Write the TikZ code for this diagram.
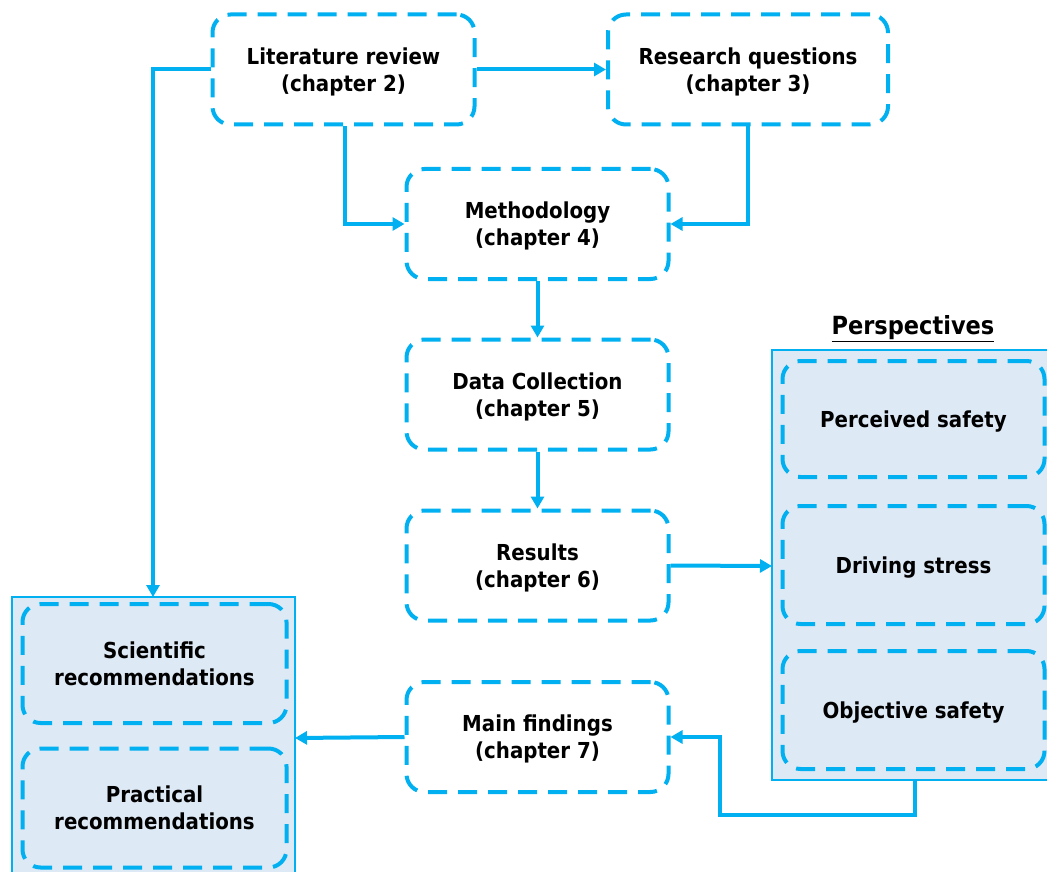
\documentclass[tikz,border=0pt]{standalone}
\usepackage{fontspec}
\setmainfont{DejaVu Sans Condensed}
\usetikzlibrary{arrows.meta}
\definecolor{cy}{HTML}{00B0F0}
\definecolor{lb}{HTML}{DEE9F6}
\tikzset{
  stepbox/.style={draw=cy, line width=4pt, dash pattern=on 19pt off 11pt, rounded corners=18pt,
    minimum width=262pt, minimum height=110pt, align=center, font=\bfseries\fontsize{22}{27}\selectfont, inner sep=0pt,
    text depth=-4pt},
  grp/.style={draw=cy, line width=1.5pt, fill=lb},
  conn/.style={draw=cy, line width=4pt, -{Triangle[length=12pt,width=13pt]}},
}
\begin{document}
\begin{tikzpicture}[x=1pt,y=-1pt]
\useasboundingbox (0,0) rectangle (1047,872);
% group boxes
\draw[grp] (772,350) rectangle (1060,780);
\draw[grp] (12,597) rectangle (295,890);
\node[font=\bfseries\fontsize{25}{28}\selectfont] (persp) at (913,329) {\setlength{\fboxsep}{0pt}\underline{Perspectives}};
% steps
\node[stepbox] (lit) at (343.5,69.5) {Literature review\\(chapter 2)};
\node[stepbox, minimum width=280pt] (rq) at (748,69.5) {Research questions\\(chapter 3)};
\node[stepbox] (meth) at (537.5,224) {Methodology\\(chapter 4)};
\node[stepbox] (data) at (537.5,394.5) {Data Collection\\(chapter 5)};
\node[stepbox] (res) at (537.5,565.5) {Results\\(chapter 6)};
\node[stepbox] (main) at (537.5,737) {Main findings\\(chapter 7)};
% perspectives
\node[stepbox, fill=lb, minimum height=116pt] (ps) at (913.5,419) {Perceived safety};
\node[stepbox, fill=lb, minimum height=118pt] (ds) at (913.5,565) {Driving stress};
\node[stepbox, fill=lb, minimum height=118pt] (os) at (913.5,710) {Objective safety};
% recommendations
\node[stepbox, fill=lb, minimum width=264pt, minimum height=119pt] (sci) at (154.5,663.5) {Scientific\\recommendations};
\node[stepbox, fill=lb, minimum width=264pt, minimum height=119pt] (pra) at (154.5,808) {Practical\\recommendations};
% anchor coordinates
\coordinate (pbL) at (772,566);
\coordinate (pbB) at (915,780);
\coordinate (lbT) at (153,597);
\coordinate (lbR) at (295,738);
% connectors
\draw[conn] (lit.east) -- (rq.west);
\draw[conn] (lit.west) -| (lbT);
\draw[conn] (lit.south -| 345,0) |- (meth.west);
\draw[conn] (rq.south) |- (meth.east);
\draw[conn] (meth.south) -- (data.north);
\draw[conn] (data.south) -- (res.north);
\draw[conn] (res.east) -- (pbL);
\draw[conn] (pbB) -- (915,815) -- (720,815) |- (main.east);
\draw[conn] (main.west) -- (lbR);
\end{tikzpicture}
\end{document}
